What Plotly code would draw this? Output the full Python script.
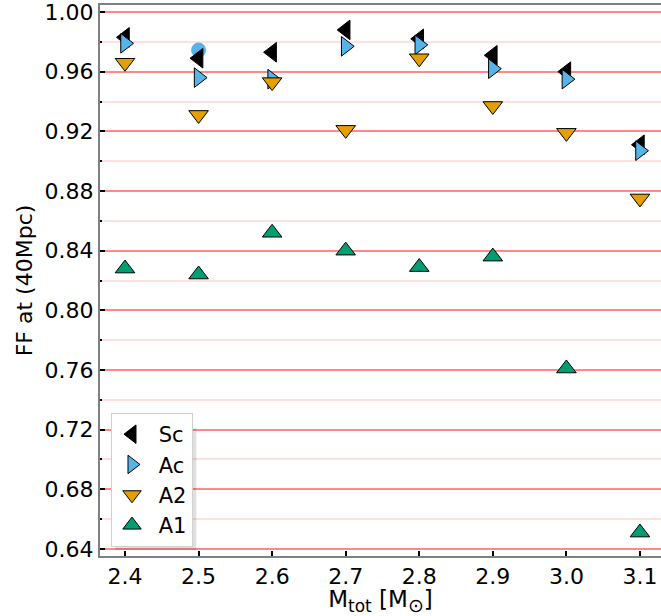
import plotly.graph_objects as go

# Total mass grid and fitting factors at 40 Mpc for each approximant
m_tot = [2.4, 2.5, 2.6, 2.7, 2.8, 2.9, 3.0, 3.1]
ff_sc = [0.983, 0.969, 0.973, 0.988, 0.982, 0.971, 0.960, 0.911]
ff_ac = [0.979, 0.956, 0.955, 0.977, 0.978, 0.962, 0.955, 0.907]
ff_a2 = [0.966, 0.931, 0.953, 0.921, 0.969, 0.937, 0.919, 0.875]
ff_a1 = [0.828, 0.824, 0.852, 0.840, 0.829, 0.836, 0.761, 0.651]

# Single extra reference point
extra_m = [2.5]
extra_ff = [0.9745]

y_ticks = [0.64, 0.68, 0.72, 0.76, 0.80, 0.84, 0.88, 0.92, 0.96, 1.00]
x_ticks = [2.4, 2.5, 2.6, 2.7, 2.8, 2.9, 3.0, 3.1]

FONT = "DejaVu Sans"
MS = 17

fig = go.Figure()

fig.add_trace(go.Scatter(
    x=extra_m, y=extra_ff, mode="markers", showlegend=False,
    marker=dict(symbol="circle", size=15, color="#56B4E9", line=dict(width=0)),
))

series = [
    ("Sc", ff_sc, "triangle-left", "#000000"),
    ("Ac", ff_ac, "triangle-right", "#56B4E9"),
    ("A2", ff_a2, "triangle-down", "#E69F00"),
    ("A1", ff_a1, "triangle-up", "#009E73"),
]
for name, vals, sym, col in series:
    fig.add_trace(go.Scatter(
        x=m_tot, y=vals, mode="markers", name=" " + name,
        marker=dict(symbol=sym, size=MS, color=col,
                    line=dict(color="#000000", width=1)),
    ))

# Soft drop shadow behind the legend box
fig.add_shape(type="rect", xref="paper", yref="paper",
              x0=0.027, x1=0.1718, y0=0.0109, y1=0.232,
              fillcolor="rgba(0,0,0,0.12)", line=dict(width=0), layer="above")

fig.update_layout(
    width=661, height=616,
    margin=dict(l=100, r=0, t=5, b=60),
    paper_bgcolor="white", plot_bgcolor="white",
    font=dict(family=FONT, size=22, color="black"),
    showlegend=True,
    legend=dict(x=0.0196, y=0.0163, xanchor="left", yanchor="bottom",
                bgcolor="white", bordercolor="#d0d0d0", borderwidth=1,
                font=dict(family=FONT, size=21), itemwidth=30,
                tracegroupgap=0),
    xaxis=dict(
        range=[2.366, 3.1286], tickvals=x_ticks,
        ticktext=[f"{v:.1f}" for v in x_ticks],
        showgrid=False, zeroline=False,
        showline=True, linecolor="#808080", linewidth=2, mirror=True,
        ticks="inside", ticklen=5, tickwidth=2, tickcolor="black",
        tickfont=dict(family=FONT, size=22),
        ticklabeloverflow="allow",
        title=dict(text="M<sub><span style='font-size:17px'>tot</span></sub> "
                        "[M<sub><span style='font-size:19px'>⊙</span></sub>]",
                   font=dict(family=FONT, size=23), standoff=4),
    ),
    yaxis=dict(
        range=[0.6353, 1.0047], tickvals=y_ticks,
        ticktext=[f"{v:.2f}" for v in y_ticks],
        showgrid=True, gridcolor="#ff8888", gridwidth=2,
        zeroline=False,
        showline=True, linecolor="#808080", linewidth=2, mirror=False,
        ticks="inside", ticklen=5, tickwidth=2, tickcolor="black",
        tickfont=dict(family=FONT, size=22),
        ticklabeloverflow="allow",
        minor=dict(dtick=0.04, tick0=0.66, showgrid=True,
                   gridcolor="#ffe0e0", gridwidth=2,
                   ticks="inside", ticklen=2, tickwidth=2, tickcolor="black"),
        title=dict(text="FF at (40Mpc)", font=dict(family=FONT, size=22),
                   standoff=6),
    ),
)

fig.write_html("out.html")
